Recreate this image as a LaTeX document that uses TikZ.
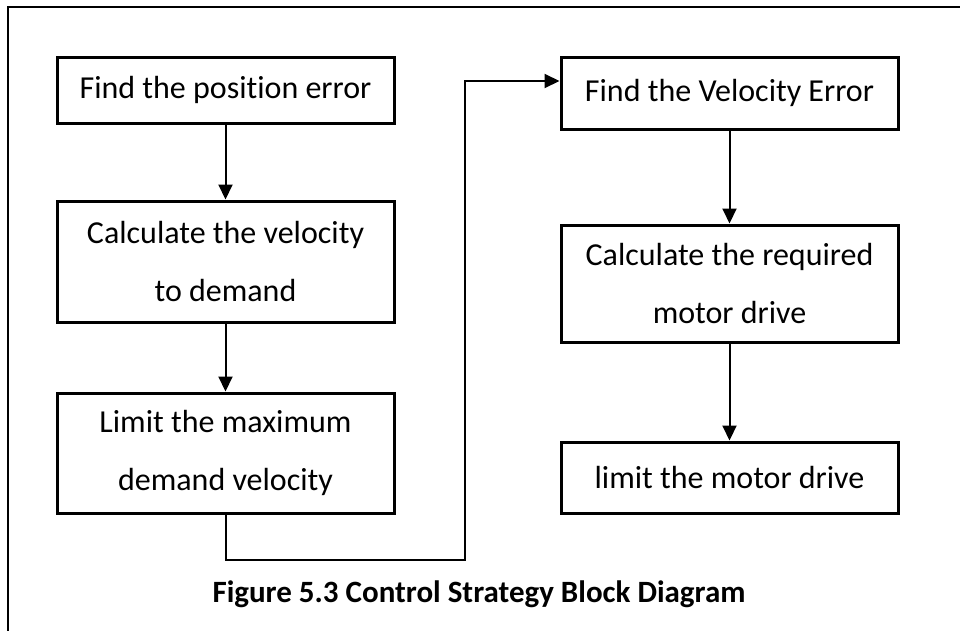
\documentclass[tikz,border=0pt]{standalone}
\usepackage{fontspec}
\setmainfont[Ligatures=NoCommon]{Carlito}
\usetikzlibrary{arrows.meta}
\begin{document}
\begin{tikzpicture}[x=1pt,y=-1pt,
  blk/.style={draw,line width=3pt,rectangle,minimum width=337pt,align=center,inner sep=0pt,
    font=\fontsize{32pt}{58pt}\selectfont},
  arr/.style={line width=2pt,-{Triangle[length=15pt,width=14pt]}},
  frame/.style={line width=2pt}]
\useasboundingbox (0,0) rectangle (960,630);
\draw[frame] (8,640) -- (8,7) -- (970,7);
\node[blk,minimum height=66pt] (b1) at (225.5,90) {Find the position error};
\node[blk,minimum height=121pt] (b2) at (225.5,261.5) {Calculate the velocity\\to demand};
\node[blk,minimum height=120pt] (b3) at (225.5,453) {Limit the maximum\\demand velocity};
\node[blk,minimum height=72pt] (b4) at (729.5,93) {Find the Velocity Error};
\node[blk,minimum height=117pt] (b5) at (729.5,283.5) {Calculate the required\\motor drive};
\node[blk,minimum height=71pt] (b6) at (729.5,477.5) {limit the motor drive};
\draw[arr] (b1) -- (b2);
\draw[arr] (b2) -- (b3);
\draw[arr] (b4) -- (b5);
\draw[arr] (b5) -- (b6);
\coordinate (c1) at (465,560);
\coordinate (c2) at (465,81);
\draw[arr] (b3.south) |- (c1) -- (c2) -- (b4.west |- c2);
\node[font=\fontsize{31pt}{36pt}\selectfont\bfseries] (cap) at (479,594) {Figure 5.3 Control Strategy Block Diagram};
\end{tikzpicture}
\end{document}
